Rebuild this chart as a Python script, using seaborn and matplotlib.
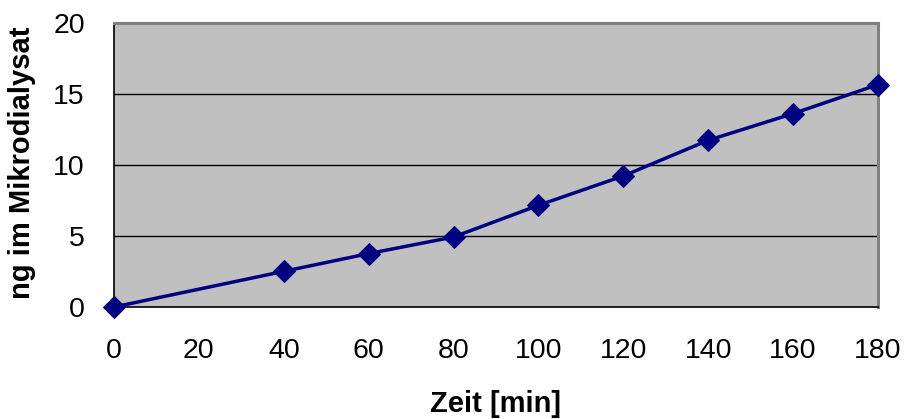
import matplotlib
matplotlib.use("Agg")
import matplotlib.pyplot as plt
import seaborn as sns
import pandas as pd

# Measured amounts in the microdialysate over time
zeit_min = [0, 40, 60, 80, 100, 120, 140, 160, 180]
ng_mikrodialysat = [0.0, 2.51, 3.76, 4.93, 7.16, 9.23, 11.74, 13.62, 15.66]
x_ticks = [0, 20, 40, 60, 80, 100, 120, 140, 160, 180]
y_ticks = [0, 5, 10, 15, 20]

df = pd.DataFrame({"Zeit": zeit_min, "ng": ng_mikrodialysat})

sns.set_style("white")
plt.rcParams["font.family"] = ["Liberation Sans", "DejaVu Sans"]
plt.rcParams["text.color"] = "black"
plt.rcParams["axes.labelcolor"] = "black"
plt.rcParams["xtick.color"] = "black"
plt.rcParams["ytick.color"] = "black"

W, H = 908, 419
fig = plt.figure(figsize=(W / 100, H / 100), dpi=100)
ax = fig.add_axes([114 / W, 1 - 307 / H, (878 - 114) / W, (307 - 23) / H])
ax.set_facecolor("#C0C0C0")

for yv in y_ticks[1:-1]:
    ax.axhline(yv, color="black", lw=1.0, zorder=1)

sns.lineplot(data=df, x="Zeit", y="ng", ax=ax, color="#000080", lw=2.5,
             marker="D", markersize=11, markeredgecolor="#000080",
             clip_on=False, zorder=3)

ax.set_xlim(0, 180)
ax.set_ylim(0, 20)
ax.set_xticks(x_ticks)
ax.set_yticks(y_ticks)
ax.set_xticklabels([str(t) for t in x_ticks], fontsize=20.5)
ax.set_yticklabels([str(t) for t in y_ticks], fontsize=20.5)
ax.tick_params(axis="x", direction="out", length=8, width=1, pad=14)
ax.tick_params(axis="y", direction="out", length=9, width=1, pad=12)

for side in ["left", "bottom"]:
    ax.spines[side].set_color("black")
    ax.spines[side].set_linewidth(1.2)
for side in ["top", "right"]:
    ax.spines[side].set_color("#808080")
    ax.spines[side].set_linewidth(2.2)
    ax.spines[side].set_visible(True)

ax.set_xlabel("Zeit [min]", fontsize=21, fontweight="bold", va="center")
ax.set_ylabel("ng im Mikrodialysat", fontsize=21, fontweight="bold", va="center")
ax.xaxis.set_label_coords(496 / W, 1 - 404 / H, transform=fig.transFigure)
ax.yaxis.set_label_coords(22 / W, 1 - 163 / H, transform=fig.transFigure)

fig.savefig("out.png", dpi=100, facecolor="white")
